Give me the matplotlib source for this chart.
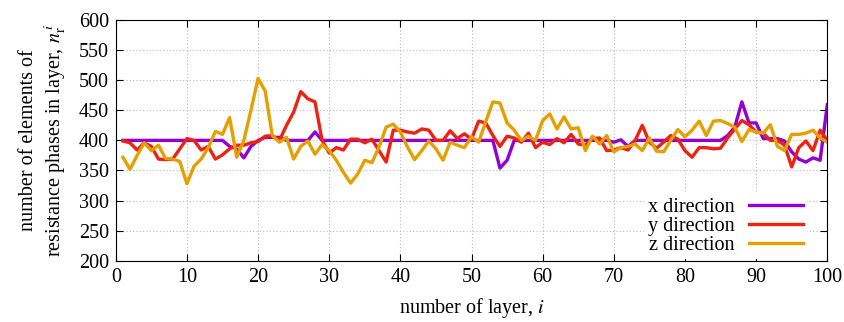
import matplotlib
matplotlib.use('Agg')
import matplotlib.pyplot as plt

plt.rcParams['font.family'] = 'Liberation Serif'
plt.rcParams['mathtext.fontset'] = 'stix'

layers = list(range(1, 101))

# x direction
x_dir = [400, 400, 400, 400, 400, 400, 400, 400, 400, 400,
         400, 400, 400, 400, 400, 390, 386, 371, 390, 400,
         405, 405, 405, 400, 400, 400, 400, 414, 400, 400,
         400, 400, 400, 400, 400, 400, 400, 400, 400, 400,
         400, 400, 400, 400, 400, 400, 400, 400, 400, 400,
         400, 400, 400, 354, 367, 400, 400, 400, 400, 400,
         400, 400, 400, 400, 400, 400, 400, 400, 400, 397,
         401, 390, 400, 400, 400, 400, 400, 400, 400, 400,
         400, 400, 400, 400, 400, 408, 422, 464, 429, 429,
         403, 403, 403, 399, 381, 369, 364, 371, 367, 459]

# y direction
y_dir = [399, 396, 384, 396, 390, 369, 368, 369, 386, 403,
         400, 384, 390, 369, 376, 386, 392, 392, 396, 398,
         407, 408, 400, 425, 447, 481, 469, 464, 400, 379,
         388, 384, 402, 402, 396, 402, 383, 364, 417, 417,
         414, 412, 419, 417, 400, 400, 416, 403, 411, 402,
         432, 429, 408, 390, 407, 404, 397, 412, 388, 397,
         393, 403, 396, 410, 394, 392, 403, 404, 383, 384,
         388, 384, 400, 425, 397, 387, 397, 408, 402, 383,
         372, 388, 388, 386, 387, 404, 419, 433, 426, 414,
         412, 400, 400, 392, 356, 388, 399, 383, 417, 400]

# z direction
z_dir = [372, 352, 375, 396, 383, 392, 370, 369, 365, 328,
         357, 369, 388, 415, 410, 438, 372, 400, 450, 503,
         482, 408, 397, 405, 369, 390, 399, 377, 393, 383,
         367, 347, 329, 344, 367, 363, 389, 422, 427, 414,
         389, 368, 383, 399, 386, 367, 397, 392, 388, 406,
         397, 431, 464, 462, 429, 417, 400, 407, 400, 433,
         444, 419, 439, 419, 421, 383, 407, 394, 408, 381,
         388, 390, 394, 383, 404, 382, 381, 400, 418, 406,
         417, 432, 408, 432, 433, 428, 422, 398, 418, 414,
         412, 426, 390, 383, 410, 410, 412, 417, 404, 397]

fig = plt.figure(figsize=(8.45, 3.22), dpi=100)
ax = fig.add_axes([0.137, 0.19, 0.842, 0.748])

ax.plot(layers, x_dir, color='#9400d3', lw=2.4, label='x direction')
ax.plot(layers, y_dir, color='#ee2211', lw=2.4, label='y direction')
ax.plot(layers, z_dir, color='#e69f00', lw=2.4, label='z direction')

ax.set_xlim(0, 100)
ax.set_ylim(200, 600)
ax.set_xticks(range(0, 101, 10))
ax.set_yticks(range(200, 601, 50))
ax.tick_params(direction='in', top=True, right=True, labelsize=14.5, length=5,
               pad=5)
ax.grid(True, color='#bbbbbb', linestyle=(0, (1, 2)), linewidth=0.8)

ax.set_xlabel('number of layer, $i$', fontsize=14.5, labelpad=7)
ax.set_ylabel('number of elements of\nresistance phases in layer, $n_\\mathrm{r}^{\\,i}$',
              fontsize=14.5, labelpad=8)

leg = ax.legend(loc='lower right', markerfirst=False, frameon=True, fontsize=14.5,
                handlelength=2.7, handletextpad=0.7, borderaxespad=0.1,
                borderpad=0.2, labelspacing=0.0, fancybox=False,
                framealpha=1, bbox_to_anchor=(0.975, 0.0))
leg.get_frame().set_edgecolor('none')
for t in leg.get_texts():
    t.set_ha('right')

fig.savefig('out.png', dpi=100)
